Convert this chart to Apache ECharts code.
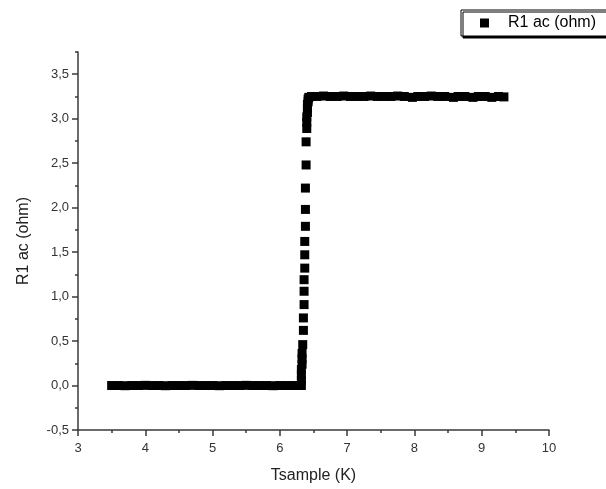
<!DOCTYPE html>
<html>
<head>
<meta charset="utf-8">
<script src="https://cdn.jsdelivr.net/npm/echarts@6/dist/echarts.min.js"></script>
<style>
  html, body { margin: 0; padding: 0; background: #fff; }
  #chart { width: 606px; height: 489px; }
</style>
</head>
<body>
<div id="chart"></div>
<script>
// Low-temperature plateau (superconducting, R ~ 0)
const lowT = [3.50, 3.60, 3.70, 3.80, 3.90, 4.00, 4.10, 4.20, 4.30, 4.40, 4.50, 4.60, 4.70, 4.80, 4.90,
  5.00, 5.10, 5.20, 5.30, 5.40, 5.50, 5.60, 5.70, 5.80, 5.90, 6.00, 6.10, 6.20, 6.27, 6.32];
const lowR = [0.00, 0.00, -0.002, 0.00, 0.00, 0.002, 0.00, 0.00, -0.002, 0.00, 0.00, 0.00, 0.002, 0.00, 0.00,
  0.00, -0.002, 0.00, 0.00, 0.00, 0.002, 0.00, 0.00, 0.00, -0.002, 0.00, 0.00, 0.00, 0.00, 0.00];

// Transition
const riseT = [6.32, 6.32, 6.32, 6.33, 6.33, 6.33, 6.34, 6.35, 6.35, 6.36, 6.36, 6.36, 6.37, 6.37, 6.37,
  6.38, 6.38, 6.38, 6.39, 6.39, 6.40, 6.40, 6.40, 6.41, 6.41, 6.41, 6.42, 6.42, 6.43];
const riseR = [0.06, 0.12, 0.18, 0.24, 0.30, 0.36, 0.46, 0.62, 0.76, 0.91, 1.06, 1.19, 1.32, 1.47, 1.62,
  1.79, 1.98, 2.22, 2.48, 2.74, 2.89, 2.96, 3.02, 3.07, 3.12, 3.16, 3.19, 3.22, 3.24];

// Normal-state plateau
const highT = [6.47, 6.55, 6.65, 6.75, 6.85, 6.95, 7.05, 7.15, 7.25, 7.35, 7.45, 7.55, 7.65, 7.75, 7.85,
  7.97, 8.05, 8.15, 8.25, 8.35, 8.45, 8.58, 8.65, 8.75, 8.87, 8.95, 9.05, 9.15, 9.25, 9.33];
const highR = [3.25, 3.25, 3.255, 3.25, 3.25, 3.255, 3.25, 3.25, 3.25, 3.255, 3.25, 3.25, 3.25, 3.255, 3.25,
  3.24, 3.25, 3.25, 3.255, 3.25, 3.25, 3.24, 3.25, 3.25, 3.24, 3.25, 3.25, 3.24, 3.25, 3.245];

const yMajorTicks = [-0.5, 0, 0.5, 1, 1.5, 2, 2.5, 3, 3.5];
const yMinorTicks = [-0.25, 0.25, 0.75, 1.25, 1.75, 2.25, 2.75, 3.25, 3.75];

const seriesName = 'R1 ac (ohm)';
const font = 'Liberation Sans, Arial, sans-serif';
const axisColor = '#3a3a3a';

const allT = lowT.concat(riseT, highT);
const allR = lowR.concat(riseR, highR);
const points = allT.map((t, i) => [t, allR[i]]);

const chart = echarts.init(document.getElementById('chart'), null, { renderer: 'canvas' });

const option = {
  backgroundColor: '#fff',
  animation: false,
  textStyle: { fontFamily: font },
  grid: { left: 78, right: 57, top: 52, bottom: 59, containLabel: false },
  legend: {
    left: 461,
    top: 10,
    orient: 'vertical',
    icon: 'rect',
    itemWidth: 9,
    itemHeight: 9,
    padding: [5, 20, 5, 19],
    backgroundColor: '#fff',
    borderColor: '#000',
    borderWidth: 1,
    shadowColor: '#000',
    shadowOffsetX: 2,
    shadowOffsetY: 2,
    shadowBlur: 0,
    textStyle: { fontFamily: font, fontSize: 16, color: '#000', padding: [0, 0, 0, 14] },
    data: [seriesName],
  },
  xAxis: {
    type: 'value',
    min: 3,
    max: 10,
    interval: 1,
    name: 'Tsample (K)',
    nameLocation: 'middle',
    nameGap: 38,
    nameTextStyle: { fontFamily: font, fontSize: 16, color: '#222' },
    axisLine: { show: true, onZero: false, lineStyle: { color: axisColor, width: 1.5 } },
    axisTick: { show: true, inside: false, length: 6, lineStyle: { color: axisColor, width: 1.5 } },
    minorTick: { show: true, splitNumber: 2, length: 3, lineStyle: { color: axisColor, width: 1.5 } },
    axisLabel: { fontFamily: font, fontSize: 13, color: '#333', margin: 12 },
    splitLine: { show: false },
  },
  yAxis: [
    {
      type: 'value',
      min: -0.5,
      max: 3.75,
      interval: 0.5,
      name: 'R1 ac (ohm)',
      nameLocation: 'middle',
      nameGap: 46,
      nameTextStyle: { fontFamily: font, fontSize: 16, color: '#222' },
      axisLine: { show: true, onZero: false, lineStyle: { color: axisColor, width: 1.5 } },
      axisTick: { show: true, inside: false, length: 6, customValues: yMajorTicks, lineStyle: { color: axisColor, width: 1.5 } },
      axisLabel: {
        fontFamily: font, fontSize: 13, color: '#333', margin: 9,
        customValues: yMajorTicks,
        formatter: (v) => v.toFixed(1).replace('.', ','),
      },
      splitLine: { show: false },
    },
    {
      type: 'value',
      min: -0.5,
      max: 3.75,
      interval: 0.5,
      position: 'left',
      axisLine: { show: false },
      axisTick: { show: true, inside: false, length: 3, customValues: yMinorTicks, lineStyle: { color: axisColor, width: 1.5 } },
      axisLabel: { show: false },
      splitLine: { show: false },
    },
  ],
  series: [{
    name: seriesName,
    type: 'scatter',
    symbol: 'rect',
    symbolSize: 9,
    itemStyle: { color: '#000', opacity: 1 },
    data: points,
  }],
};

chart.setOption(option);
</script>
</body>
</html>
